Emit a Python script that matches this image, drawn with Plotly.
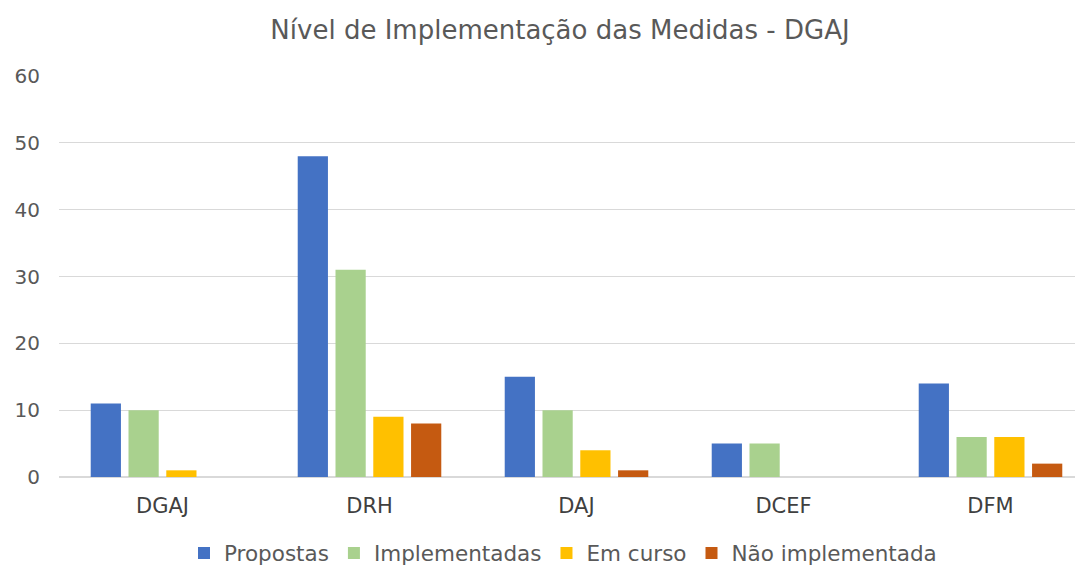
import plotly.graph_objects as go

categories = ["DGAJ", "DRH", "DAJ", "DCEF", "DFM"]
propostas = [11, 48, 15, 5, 14]
implementadas = [10, 31, 10, 5, 6]
em_curso = [1, 9, 4, 0, 6]
nao_implementada = [0, 8, 1, 0, 2]

series = [
    ("Propostas", propostas, "#4472C4"),
    ("Implementadas", implementadas, "#A9D18E"),
    ("Em curso", em_curso, "#FFC000"),
    ("Não implementada", nao_implementada, "#C55A11"),
]

fig = go.Figure()
for name, vals, color in series:
    fig.add_trace(go.Bar(
        x=categories, y=vals, name=name,
        marker=dict(color=color, line=dict(width=0)),
    ))

# page body has an 8px margin; figure is sized to fit the window
W, H = 1075, 557
L = 51
font_family = "DejaVu Sans"
fig.update_layout(
    width=W, height=H,
    paper_bgcolor="white", plot_bgcolor="white",
    font=dict(family=font_family, color="#595959", size=20),
    title=dict(text="Nível de Implementação das Medidas - DGAJ",
               x=552 / W, xanchor="center", xref="container",
               y=1 - 22 / H, yanchor="middle", yref="container",
               font=dict(size=26, color="#595959", family=font_family)),
    margin=dict(l=L, r=0, t=68, b=88, autoexpand=False),
    barmode="group", bargap=0.27, bargroupgap=0.2,
    showlegend=True,
    legend=dict(orientation="h", x=555 / W, xanchor="center", xref="container",
                y=1 - 545 / H, yanchor="middle", yref="container",
                font=dict(size=21.5, color="#595959"), traceorder="normal",
                itemwidth=30),
    xaxis=dict(showgrid=False, showline=True, linecolor="#d9d9d9", linewidth=1,
               range=[-0.5, -0.5 + (W - L) / 207],
               tickfont=dict(size=21, color="#404040"), ticks="outside",
               ticklen=10, tickcolor="rgba(0,0,0,0)", automargin=False),
    yaxis=dict(range=[0, 60], dtick=10, showgrid=True, gridcolor="#d9d9d9", gridwidth=1,
               zeroline=True, zerolinecolor="#d9d9d9", showline=False,
               tickfont=dict(size=20, color="#595959"), ticks="outside",
               ticklen=14, tickcolor="rgba(0,0,0,0)", automargin=False),
)

fig.write_html("out.html")
